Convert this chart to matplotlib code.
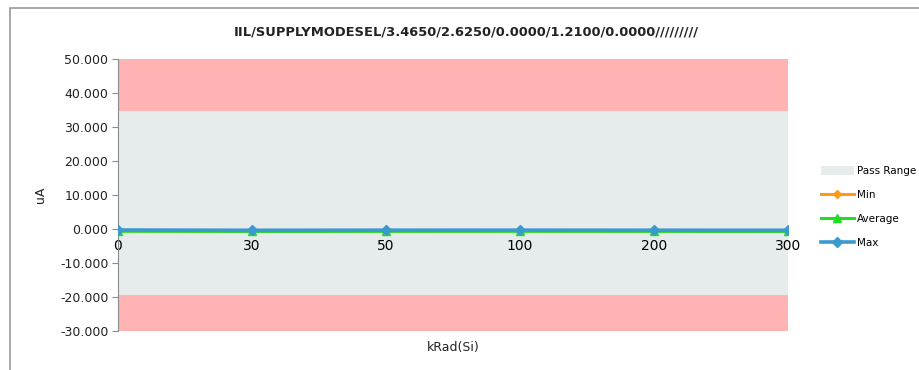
"""Radiation test chart: IIL supply mode current vs total dose."""

import matplotlib
matplotlib.use("Agg")
import matplotlib.pyplot as plt
from matplotlib.patches import Rectangle

# chart data
doses = ["0", "30", "50", "100", "200", "300"]
min_vals = [-0.55, -0.60, -0.58, -0.57, -0.58, -0.60]
avg_vals = [-0.65, -0.70, -0.68, -0.67, -0.68, -0.70]
max_vals = [-0.30, -0.38, -0.35, -0.34, -0.36, -0.38]
pass_low = -19.5
pass_high = 34.7
y_min = -30
y_max = 50
y_ticks = [50, 40, 30, 20, 10, 0, -10, -20, -30]
title = "IIL/SUPPLYMODESEL/3.4650/2.6250/0.0000/1.2100/0.0000/////////"

plt.rcParams["font.family"] = ["DejaVu Sans"]

fig = plt.figure(figsize=(9.2, 3.7), dpi=100)
ax = fig.add_axes([118 / 920, 39 / 370, 670 / 920, 272 / 370])

# chart frame
fig.patches.append(Rectangle((10 / 920, -0.1), 1.2, 1.1 - 8 / 370,
                             transform=fig.transFigure, fill=False,
                             edgecolor="#9a9a9a", linewidth=1.2))

x = list(range(len(doses)))
ax.axhspan(pass_high, y_max, color="#FFB3B3", zorder=0, lw=0)
ax.axhspan(y_min, pass_low, color="#FFB3B3", zorder=0, lw=0)
ax.axhspan(pass_low, pass_high, color="#E6EBEB", zorder=0, lw=0,
           label="Pass Range")

ax.plot(x, min_vals, color="#FF9A1A", lw=2.2, marker="D", ms=4,
        label="Min", zorder=3)
ax.plot(x, avg_vals, color="#22DD22", lw=2.2, marker="^", ms=6,
        label="Average", zorder=4)
ax.plot(x, max_vals, color="#3A9AD0", lw=2.6, marker="D", ms=5,
        label="Max", zorder=5)

ax.set_xlim(0, len(doses) - 1)
ax.set_ylim(y_min, y_max)
ax.set_yticks(y_ticks)
ax.set_yticklabels([f"{v:.3f}" for v in y_ticks], fontsize=9, color="#222222")
ax.set_xticks(x)
ax.set_xticklabels(doses, fontsize=7.5, color="#222222")

for side in ["top", "right"]:
    ax.spines[side].set_visible(False)
ax.spines["left"].set_color("#8c8c8c")
ax.spines["bottom"].set_position(("data", 0))
ax.spines["bottom"].set_color("#b0b0b0")
ax.spines["bottom"].set_zorder(2)
ax.tick_params(axis="y", length=4, color="#8c8c8c", pad=3)
ax.tick_params(axis="x", length=0, pad=7)

ax.set_ylabel("uA", fontsize=9, color="#222222", labelpad=9)
ax.set_xlabel("kRad(Si)", fontsize=9, color="#222222", labelpad=0)
ax.xaxis.set_label_coords(0.5, -0.035)

fig.text(0.5 + 6 / 920, 1 - 32 / 370, title, ha="center", va="center",
         fontsize=9.4, fontweight="bold", color="#222222",
         family=["Liberation Sans Narrow", "DejaVu Sans"])

ax.legend(loc="center left", bbox_to_anchor=(1.035, 0.455), frameon=False,
          fontsize=7.5, handlelength=3.2, handleheight=0.9,
          labelspacing=1.35, handletextpad=0.3)

fig.savefig("out.png", dpi=100)
